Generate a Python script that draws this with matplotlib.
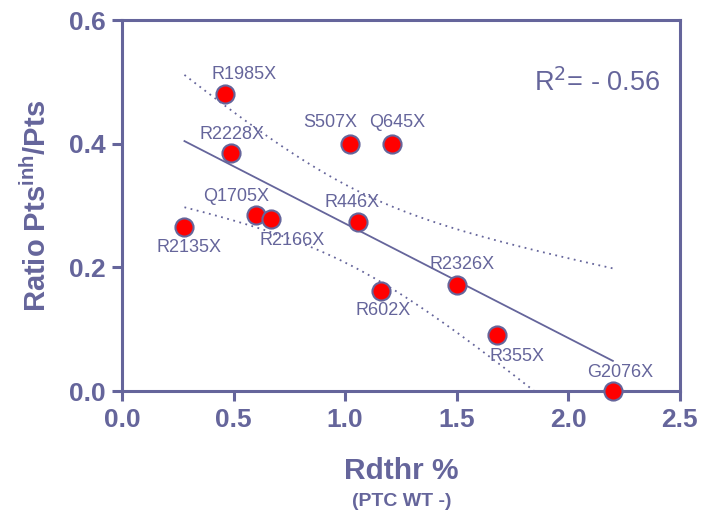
import numpy as np
import matplotlib
matplotlib.use("Agg")
import matplotlib.pyplot as plt

plt.rcParams['font.family'] = ['Liberation Sans', 'DejaVu Sans']

# data
mutations = ["R1985X", "R2228X", "S507X", "Q645X", "Q1705X", "R2166X",
             "R2135X", "R446X", "R602X", "R2326X", "R355X", "G2076X"]
rdthr = [0.46, 0.49, 1.02, 1.21, 0.60, 0.67, 0.28, 1.06, 1.16, 1.50, 1.68, 2.20]
ratio = [0.48, 0.385, 0.40, 0.40, 0.285, 0.278, 0.265, 0.273, 0.162, 0.172, 0.09, 0.0]
r2_text = "R$^2$= - 0.56"

# label offsets (pixels) for each point
label_dx = [19, 1, -19, 5, -20, 21, 5, -6, 2, 5, 20, 7]
label_dy = [20, 18, 21, 21, 18, -21, -20, 20, -20, 20, -21, 19]

col = "#65659b"

x = np.array(rdthr)
y = np.array(ratio)
n = len(x)
slope, icpt = np.polyfit(x, y, 1)
xs = np.linspace(x.min(), x.max(), 200)
yfit = slope * xs + icpt
resid = y - (slope * x + icpt)
s = np.sqrt(np.sum(resid ** 2) / (n - 2))
sxx = np.sum((x - x.mean()) ** 2)
tval = 2.228  # t(0.975, df=10)
half = tval * s * np.sqrt(1.0 / n + (xs - x.mean()) ** 2 / sxx)

fig = plt.figure(figsize=(7.03, 5.2), dpi=100)
ax = fig.add_axes([0.1735, 0.248, 0.7935, 0.7135])

ax.plot(xs, yfit, color=col, lw=1.3)
ax.plot(xs, yfit + half, color=col, lw=1.3, ls=(0, (1, 2.5)))
ax.plot(xs, yfit - half, color=col, lw=1.3, ls=(0, (1, 2.5)))

ax.scatter(x, y, s=170, color="red", edgecolor=col, linewidth=1.5, zorder=5, clip_on=False)

for i, m in enumerate(mutations):
    ax.annotate(m, (x[i], y[i]), xytext=(label_dx[i], label_dy[i]), textcoords="offset pixels",
                ha="center", va="center", fontsize=13, color=col, zorder=6)

ax.text(0.965, 0.83, r2_text, transform=ax.transAxes, ha="right", va="center",
        fontsize=19.5, color=col)

ax.set_xlim(0, 2.5)
ax.set_ylim(0, 0.6)
ax.set_xticks([0.0, 0.5, 1.0, 1.5, 2.0, 2.5])
ax.set_yticks([0.0, 0.2, 0.4, 0.6])
ax.xaxis.set_major_formatter(matplotlib.ticker.FormatStrFormatter('%.1f'))
ax.yaxis.set_major_formatter(matplotlib.ticker.FormatStrFormatter('%.1f'))

for sp in ax.spines.values():
    sp.set_color(col)
    sp.set_linewidth(2.2)
ax.tick_params(colors=col, width=2.2, length=7, labelsize=19, pad=5)
for lab in ax.get_xticklabels() + ax.get_yticklabels():
    lab.set_fontweight("bold")

ax.set_xlabel("Rdthr %", fontsize=21.5, fontweight="bold", color=col, labelpad=18)
fig.text(0.571, 0.035, "(PTC WT -)", ha="center", va="center", fontsize=14,
         fontweight="bold", color=col)
ax.set_ylabel("Ratio Pts$^{\\mathregular{inh}}$/Pts", fontsize=21, fontweight="bold",
              color=col, labelpad=12)

fig.savefig("out.png", dpi=100)
